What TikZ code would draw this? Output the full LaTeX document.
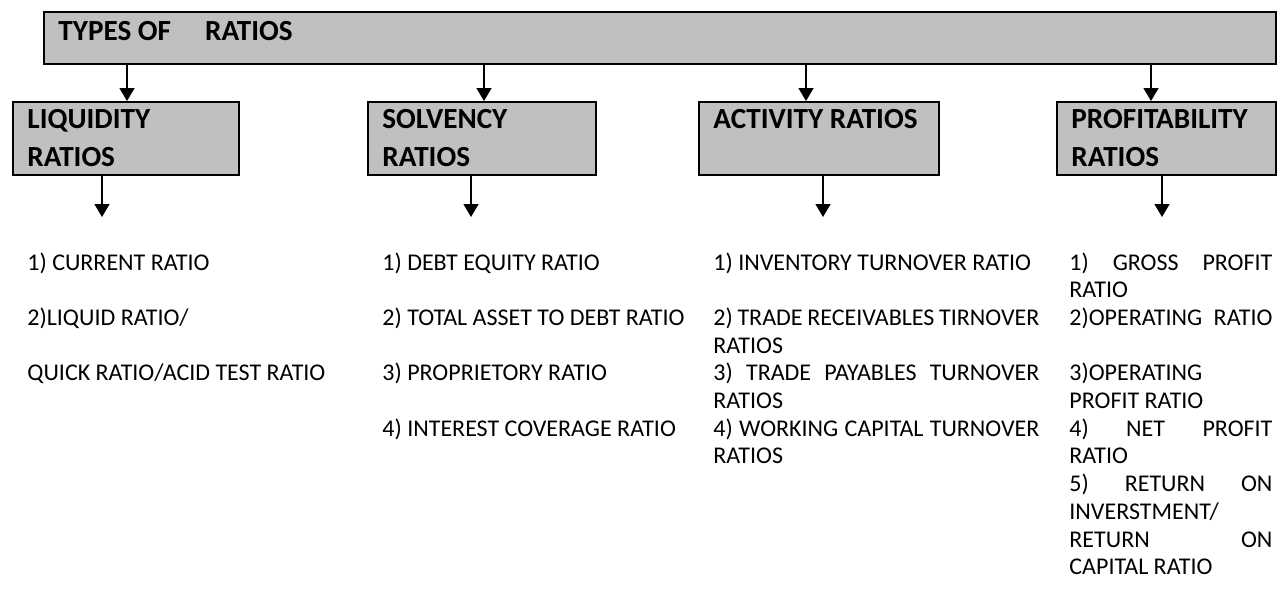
\documentclass[tikz,border=0pt]{standalone}
\usepackage{fontspec}
\setmainfont{Carlito}
\usetikzlibrary{arrows.meta}
\definecolor{boxgray}{HTML}{C0C0C0}
% a line set flush at both ends, spaces stretched
\newcommand{\jline}[2]{\makebox[#1][s]{#2}}
\tikzset{
  box/.style={draw=black, line width=1pt, fill=boxgray, anchor=north west, inner sep=0pt},
  head/.style={anchor=base west, inner sep=0pt, font=\fontsize{14.6}{17}\selectfont\bfseries},
  item/.style={anchor=base west, inner sep=0pt, font=\fontsize{12}{14}\selectfont},
  arr/.style={line width=0.75pt, -{Triangle[width=7.5pt,length=6.5pt]}},
}
\begin{document}
\begin{tikzpicture}[x=0.5pt,y=-0.5pt]
\useasboundingbox (0,0) rectangle (1285,594);

% heading bar
\node[box, minimum width=616pt, minimum height=26pt] (top) at (43,11) {};
\node[head] (title) at (58,40) {TYPES OF\hspace{17pt}RATIOS};

% the four groups
\node[box, minimum width=113pt,   minimum height=36.5pt] (liq)  at (12,101)   {};
\node[box, minimum width=114pt,   minimum height=36.5pt] (solv) at (367,101)  {};
\node[box, minimum width=120pt,   minimum height=36.5pt] (act)  at (698,101)  {};
\node[box, minimum width=109.5pt, minimum height=36.5pt] (prof) at (1056,101) {};

\node[head] (liqA)  at (27,128.5)   {LIQUIDITY};
\node[head] (liqB)  at (27,166.5)   {RATIOS};
\node[head] (solvA) at (382,128.5)  {SOLVENCY};
\node[head] (solvB) at (382,166.5)  {RATIOS};
\node[head] (actA)  at (713,128.5)  {ACTIVITY RATIOS};
\node[head] (profA) at (1071,128.5) {PROFITABILITY};
\node[head] (profB) at (1071,166.5) {RATIOS};

% arrows from the heading bar
\draw[arr] (127,0 |- top.south)  -- (127,0 |- liq.north);
\draw[arr] (484,0 |- top.south)  -- (484,0 |- solv.north);
\draw[arr] (806,0 |- top.south)  -- (806,0 |- act.north);
\draw[arr] (1151,0 |- top.south) -- (1151,0 |- prof.north);

% arrows below each group
\coordinate (liqE)  at (102,217);
\coordinate (solvE) at (471,217);
\coordinate (actE)  at (823,217);
\coordinate (profE) at (1162,217);
\draw[arr] (102,0 |- liq.south)   -- (liqE);
\draw[arr] (471,0 |- solv.south)  -- (solvE);
\draw[arr] (823,0 |- act.south)   -- (actE);
\draw[arr] (1162,0 |- prof.south) -- (profE);

% liquidity ratios
\node[item] (l1) at (27,270)   {1) CURRENT RATIO};
\node[item] (l2) at (27,325.4) {2)LIQUID RATIO/};
\node[item] (l3) at (27,380.8) {QUICK RATIO/ACID TEST RATIO};

% solvency ratios
\node[item] (s1) at (382,270)   {1) DEBT EQUITY RATIO};
\node[item] (s2) at (382,325.4) {2) TOTAL ASSET TO DEBT RATIO};
\node[item] (s3) at (382,380.8) {3) PROPRIETORY RATIO};
\node[item] (s4) at (382,436.2) {4) INTEREST COVERAGE RATIO};

% activity ratios
\node[item] (a1)  at (713,270)   {1) INVENTORY TURNOVER RATIO};
\node[item] (a2)  at (713,325.4) {\jline{163pt}{2) TRADE RECEIVABLES TIRNOVER}};
\node[item] (a2b) at (713,353.1) {RATIOS};
\node[item] (a3)  at (713,380.8) {\jline{163pt}{3) TRADE PAYABLES TURNOVER}};
\node[item] (a3b) at (713,408.5) {RATIOS};
\node[item] (a4)  at (713,436.2) {\jline{163pt}{4) WORKING CAPITAL TURNOVER}};
\node[item] (a4b) at (713,463.9) {RATIOS};

% profitability ratios
\node[item] (p1)  at (1069,270)   {\jline{101.5pt}{1) GROSS PROFIT}};
\node[item] (p1b) at (1069,297.7) {RATIO};
\node[item] (p2)  at (1069,325.4) {\jline{101.5pt}{2)OPERATING RATIO}};
\node[item] (p3)  at (1069,380.8) {3)OPERATING};
\node[item] (p3b) at (1069,408.5) {PROFIT RATIO};
\node[item] (p4)  at (1069,436.2) {\jline{101.5pt}{4) NET PROFIT}};
\node[item] (p4b) at (1069,463.9) {RATIO};
\node[item] (p5)  at (1069,491.6) {\jline{101.5pt}{5) RETURN ON}};
\node[item] (p5b) at (1069,519.3) {INVERSTMENT/};
\node[item] (p5c) at (1069,547)   {\jline{101.5pt}{RETURN ON}};
\node[item] (p5d) at (1069,574.7) {CAPITAL RATIO};
\end{tikzpicture}
\end{document}
